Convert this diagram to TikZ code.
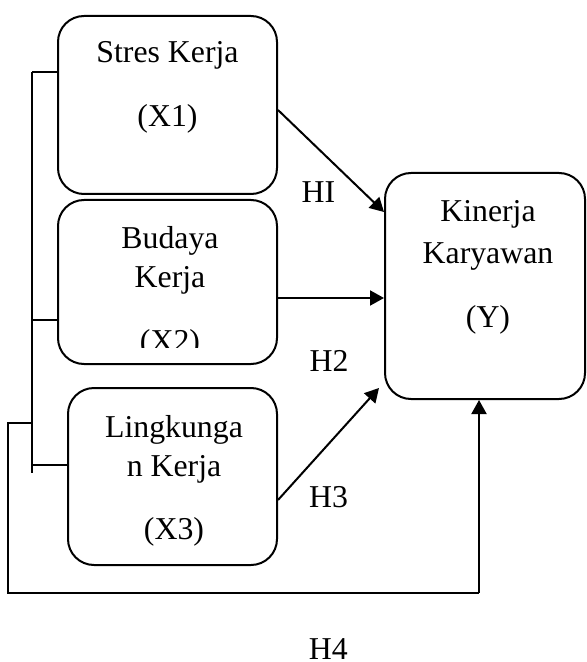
\documentclass[tikz,border=0pt]{standalone}
\usepackage{fontspec}
\setmainfont{Liberation Serif}
\usetikzlibrary{arrows.meta}
\begin{document}
\begin{tikzpicture}[x=0.5pt, y=-0.5pt, >={Triangle[length=7pt,width=7.5pt]},
    box/.style = {draw, line width=1pt, rounded corners=13pt, inner sep=0pt},
    txt/.style = {align=center, anchor=base, inner sep=0pt, font=\fontsize{15.9}{19.5}\selectfont},
    lbl/.style = {inner sep=0pt, font=\fontsize{15.9}{19.5}\selectfont},
    arr/.style = {->, line width=1pt},
    brace/.style = {line width=0.6pt}]
    \useasboundingbox (0,0) rectangle (587,662);

    \node[box, minimum width=109.5pt, minimum height=89pt]   (x1) at (167.5,105)   {};
    \node[box, minimum width=109.5pt, minimum height=82pt]   (x2) at (167.5,282)   {};
    \node[box, minimum width=104.5pt, minimum height=88.5pt] (x3) at (172.5,476.5) {};
    \node[box, minimum width=100pt,   minimum height=113pt]  (y)  at (485,286)     {};

    % anchor=base sits on the last line
    \node[txt] (x1t) at (167.5,127) {Stres Kerja\\[12.5pt](X1)};
    \begin{scope}
        \clip (0,0) rectangle (587,347);
        \node[txt] (x2t) at (170,351) {Budaya\\Kerja\\[12.5pt](X2)};
    \end{scope}
    \node[txt] (x3t) at (174,539) {Lingkunga\\n Kerja\\[12pt](X3)};
    \node[txt] (yt)  at (488,327) {Kinerja\\[1pt]Karyawan\\[12.5pt](Y)};

    \draw[arr] ([yshift=-2.5pt]x1.east) to node[lbl, midway, xshift=-6.25pt, yshift=-15.5pt] {HI} ([yshift=37pt]y.west);
    \draw[arr] ([yshift=-8pt]x2.east) to node[lbl, midway, xshift=-1pt, yshift=-31.5pt] {H2} ([yshift=-6pt]y.west);
    \draw[arr] ([yshift=-11.75pt]x3.east) to node[lbl, midway, yshift=-26.5pt] {H3} ([xshift=-2.5pt, yshift=-51pt]y.west);

    % left bracket
    \coordinate (t1) at (32,72);
    \coordinate (t2) at (32,473);
    \coordinate (t3) at (32,320);
    \coordinate (t4) at (32,465);
    \draw[brace] (t1) -- (t2);
    \draw[brace] (t1) -- (x1.west |- t1);
    \draw[brace] (t3) -- (x2.west |- t3);
    \draw[brace] (t4) -- (x3.west |- t4);

    % H4 loop
    \coordinate (h1) at (32,423);
    \coordinate (h2) at (8,423);
    \coordinate (c4) at (479,593);
    \draw[brace] (h1) -- (h2) |- node[lbl, pos=0.84, yshift=-28pt] {H4} (c4);
    \draw[arr] (c4) -- (y.south -| c4);
\end{tikzpicture}
\end{document}
